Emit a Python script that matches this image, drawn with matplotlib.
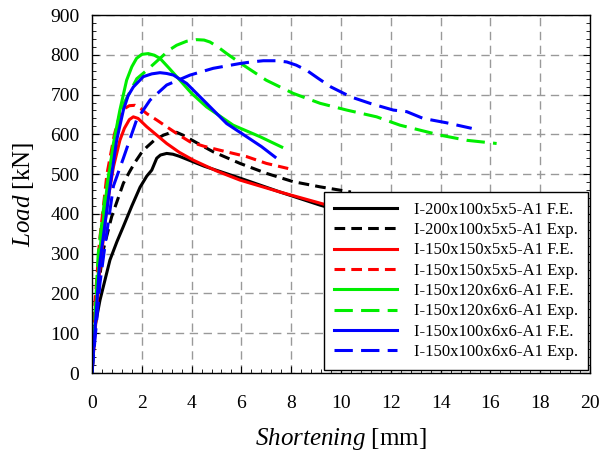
import matplotlib
matplotlib.use("Agg")
from matplotlib import pyplot as plt
from matplotlib.ticker import MultipleLocator

plt.rcParams['font.family'] = ['Liberation Serif', 'DejaVu Serif']
plt.rcParams['mathtext.fontset'] = 'custom'
plt.rcParams['mathtext.it'] = 'Liberation Serif:italic'
plt.rcParams['mathtext.rm'] = 'Liberation Serif'

# I-200x100x5x5-A1
fe200_x = [0, 0.1, 0.32, 0.72, 1.0, 1.25, 1.6, 1.93, 2.2, 2.4, 2.5, 2.6, 2.75, 3.0, 3.25, 3.5,
           4.5, 5.94, 7.55, 9.16, 10.5]
fe200_y = [0, 110, 183, 284, 330, 367, 420, 467, 495, 510, 525, 540, 548, 552, 550, 545,
           520, 490, 455, 422, 398]
ex200_x = [0, 0.19, 0.45, 0.79, 1.26, 1.5, 1.73, 2.0, 2.2, 2.5, 2.87, 3.1, 3.4, 3.65, 3.94,
           4.4, 4.87, 5.94, 7.0, 8.08, 9.16, 10.4]
ex200_y = [0, 183, 309, 393, 477, 505, 530, 555, 568, 585, 598, 603, 605, 598, 588,
           572, 556, 527, 502, 481, 468, 455]

# I-150x150x5x5-A1
fe150_x = [0, 0.3, 0.6, 0.86, 1.12, 1.3, 1.5, 1.66, 1.85, 2.2, 2.6, 3.0, 3.5, 4.07, 5.0,
           5.94, 7.55, 9.16, 10.4]
fe150_y = [0, 250, 420, 518, 585, 615, 637, 644, 640, 619, 598, 577, 555, 535, 508,
           485, 455, 427, 405]
ex150_x = [0, 0.05, 0.3, 0.6, 0.9, 1.1, 1.26, 1.5, 1.73, 1.95, 2.2, 2.6, 3.0, 3.5, 3.94,
           4.5, 5.14, 6.21, 7.0, 7.88]
ex150_y = [0, 116, 330, 500, 600, 645, 663, 672, 673, 665, 652, 636, 619, 598, 581,
           570, 560, 544, 527, 514]

# I-150x120x6x6-A1
fe120_x = [0, 0.3, 0.59, 0.86, 1.12, 1.39, 1.6, 1.79, 2.0, 2.26, 2.5, 2.73, 3.1, 3.53,
           4.0, 4.6, 5.67, 6.75, 7.62]
fe120_y = [0, 300, 460, 577, 661, 736, 770, 791, 801, 803, 799, 791, 766, 736,
           703, 669, 623, 594, 568]
ex120_x = [0, 0.25, 0.52, 0.9, 1.3, 1.8, 2.2, 2.73, 3.1, 3.4, 3.8, 4.2, 4.5, 4.74, 5.05,
           5.41, 6.08, 7.0, 8.08, 9.16, 10.23, 11.43, 12.37, 13.98, 15.05, 16.25]
ex120_y = [0, 300, 443, 580, 680, 740, 761, 791, 812, 824, 834, 838, 837, 832, 820,
           803, 774, 736, 703, 678, 661, 644, 623, 598, 585, 577]

# I-150x100x6x6-A1
fe100_x = [0, 0.3, 0.72, 0.99, 1.26, 1.45, 1.66, 2.06, 2.4, 2.73, 3.0, 3.27, 3.8, 4.6,
           5.41, 6.21, 6.81, 7.35]
fe100_y = [0, 270, 468, 585, 661, 697, 719, 745, 752, 755, 753, 749, 728, 678,
           627, 594, 569, 543]
ex100_x = [0, 0.32, 0.52, 0.86, 1.26, 1.79, 2.33, 3.0, 3.94, 4.87, 5.94, 6.4, 6.88, 7.4,
           7.82, 8.2, 8.62, 9.1, 9.6, 10.4, 11.16, 12.1, 12.64, 13.3, 14.24, 15.25]
ex100_y = [0, 226, 320, 470, 540, 636, 686, 724, 749, 766, 778, 782, 785, 785,
           782, 774, 761, 740, 719, 694, 678, 661, 657, 640, 629, 615]

fig = plt.figure(figsize=(6, 4.59), dpi=100)
ax = fig.add_axes([92 / 600, 1 - 373 / 459, 498 / 600, 358 / 459])

lw = 2.2
kw = dict(lw=lw, solid_joinstyle='round', dash_joinstyle='round')
short = (3.5, 2)
long_ = (6, 2.7)
ax.plot(fe200_x, fe200_y, color='black', label='I-200x100x5x5-A1 F.E.', **kw)
ax.plot(ex200_x, ex200_y, color='black', dashes=short, label='I-200x100x5x5-A1 Exp.', **kw)
ax.plot(fe150_x, fe150_y, color='red', label='I-150x150x5x5-A1 F.E.', **kw)
ax.plot(ex150_x, ex150_y, color='red', dashes=short, label='I-150x150x5x5-A1 Exp.', **kw)
ax.plot(fe120_x, fe120_y, color='#00ee00', label='I-150x120x6x6-A1 F.E.', **kw)
ax.plot(ex120_x, ex120_y, color='#00ee00', dashes=long_, label='I-150x120x6x6-A1 Exp.', **kw)
ax.plot(fe100_x, fe100_y, color='blue', label='I-150x100x6x6-A1 F.E.', **kw)
ax.plot(ex100_x, ex100_y, color='blue', dashes=long_, label='I-150x100x6x6-A1 Exp.', **kw)

ax.set_xlim(0, 20)
ax.set_ylim(0, 900)
ax.xaxis.set_major_locator(MultipleLocator(2))
ax.xaxis.set_minor_locator(MultipleLocator(0.4))
ax.yaxis.set_major_locator(MultipleLocator(100))
ax.yaxis.set_minor_locator(MultipleLocator(20))
ax.tick_params(which='both', direction='in', right=True, labelsize=14)
ax.tick_params(which='major', length=5)
ax.tick_params(which='minor', length=3)
ax.tick_params(axis='y', which='major', pad=9)
ax.tick_params(axis='x', which='major', pad=16)
ax.grid(True, which='major', color='#999999', linestyle=(0, (6, 4)), lw=1)
for s in ax.spines.values():
    s.set_linewidth(1)

ax.set_xlabel(r'$\mathit{Shortening}$ [mm]', fontsize=18, labelpad=10)
ax.set_ylabel(r'$\mathit{Load}$ [kN]', fontsize=18, labelpad=10)

leg = ax.legend(loc='lower right', bbox_to_anchor=(0.996, 0.008), borderaxespad=0,
                fontsize=12, frameon=True, fancybox=False, edgecolor='black',
                framealpha=1, handlelength=3.8, labelspacing=0.26, handletextpad=1.0,
                borderpad=0.6)
leg.get_frame().set_linewidth(1)

fig.savefig('out.png', dpi=100)
